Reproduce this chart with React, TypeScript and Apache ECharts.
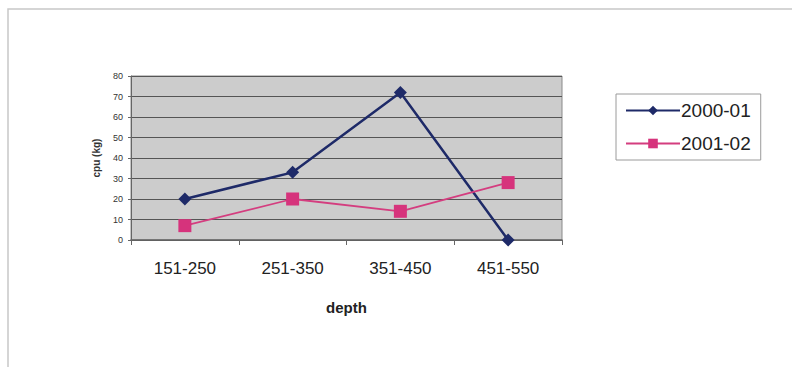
import React, { useEffect, useRef } from "react";
import * as echarts from "echarts";

const categories = ["151-250", "251-350", "351-450", "451-550"];
const series2000 = [20, 33, 72, 0];
const series2001 = [7, 20, 14, 28];
const seriesNames = ["2000-01", "2001-02"];
const yMin = 0;
const yMax = 80;
const yInterval = 10;

export default function App() {
  const ref = useRef<HTMLDivElement>(null);
  useEffect(() => {
    document.body.style.margin = "0";
    const chart = echarts.init(ref.current!, null, { renderer: "svg" });
    chart.setOption({
      animation: false,
      backgroundColor: "#ffffff",
      textStyle: { fontFamily: "Liberation Sans, Arial, sans-serif" },
      graphic: [
        {
          type: "rect",
          shape: { x: 8, y: 9, width: 790, height: 362 },
          style: { fill: "none", stroke: "#c8c8c8", lineWidth: 1.5 },
          silent: true,
        },
      ],
      grid: {
        left: 131,
        right: 230,
        top: 76,
        bottom: 127,
        show: true,
        backgroundColor: "#cccccc",
        borderColor: "#8a8a8a",
        borderWidth: 1,
      },
      legend: {
        orient: "vertical",
        left: 616,
        top: 94,
        width: 157,
        padding: [7, 10, 7, 9],
        itemGap: 14,
        itemWidth: 54,
        itemHeight: 12,
        backgroundColor: "#ffffff",
        borderColor: "#9a9a9a",
        borderWidth: 1,
        textStyle: { fontSize: 19, color: "#222", padding: [0, 0, 0, -4] },
        data: seriesNames,
      },
      xAxis: {
        type: "category",
        data: categories,
        boundaryGap: true,
        axisLine: { show: true, lineStyle: { color: "#666", width: 1.5 } },
        axisTick: { show: true, length: 5, alignWithLabel: false, lineStyle: { color: "#666" } },
        axisLabel: { fontSize: 17, color: "#222", margin: 20 },
        name: "depth",
        nameLocation: "middle",
        nameGap: 60,
        nameTextStyle: { fontSize: 15, fontWeight: "bold", color: "#222" },
      },
      yAxis: {
        type: "value",
        min: yMin,
        max: yMax,
        interval: yInterval,
        axisLine: { show: true, lineStyle: { color: "#666" } },
        axisTick: { show: true, length: 3, lineStyle: { color: "#666" } },
        axisLabel: { fontSize: 9, color: "#333", margin: 8 },
        splitLine: { show: true, lineStyle: { color: "#555", width: 1 } },
        name: "cpu (kg)",
        nameLocation: "middle",
        nameGap: 30,
        nameRotate: 90,
        nameTextStyle: { fontSize: 10, fontWeight: "bold", color: "#333" },
      },
      series: [
        {
          name: seriesNames[0],
          type: "line",
          data: series2000,
          symbol: "diamond",
          symbolSize: 13,
          lineStyle: { color: "#1e2a68", width: 2.5 },
          itemStyle: { color: "#1e2a68" },
        },
        {
          name: seriesNames[1],
          type: "line",
          data: series2001,
          symbol: "rect",
          symbolSize: 13,
          lineStyle: { color: "#d43d7f", width: 1.8 },
          itemStyle: { color: "#d6337c" },
        },
      ],
    });
    return () => chart.dispose();
  }, []);
  return <div ref={ref} style={{ width: 792, height: 367 }} />;
}
